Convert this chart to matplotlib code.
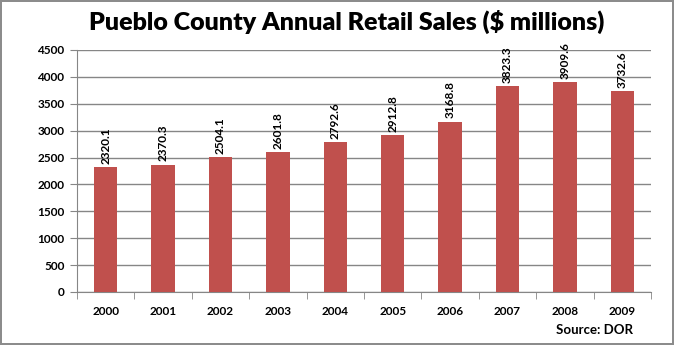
import numpy as np
import matplotlib.pyplot as plt

years = ['2000', '2001', '2002', '2003', '2004', '2005', '2006', '2007', '2008', '2009']
sales = [2320.1, 2370.3, 2504.1, 2601.8, 2792.6, 2912.8, 3168.8, 3823.3, 3909.6, 3732.6]

bar_color = '#C0504D'
grid_color = '#868686'

plt.rcParams['font.family'] = ['Lato', 'DejaVu Sans']

fig = plt.figure(figsize=(6.74, 3.45), dpi=100)
fig.patch.set_edgecolor('#8c8c8c')
fig.patch.set_linewidth(1.5)
ax = fig.add_axes([77/674, 1 - 292/345, (651 - 77)/674, (292 - 50)/345])

x = np.arange(len(years))
ax.bar(x, sales, width=0.41, color=bar_color, zorder=3)

for xi, v in zip(x, sales):
    ax.text(xi, v + 60, f'{v:.1f}', rotation=90, ha='center', va='bottom',
            fontsize=8.5, fontweight='bold', color='black', zorder=4)

ax.set_xlim(-0.5, len(years) - 0.5)
ax.set_ylim(0, 4500)
ax.set_yticks(np.arange(0, 4501, 500))
ax.set_yticklabels([str(t) for t in range(0, 4501, 500)], fontsize=8.5, fontweight='bold')
ax.set_xticks(x)
ax.set_xticklabels(years, fontsize=8.5, fontweight='bold')
ax.set_xticks(np.arange(-0.5, len(years)), minor=True)
ax.tick_params(axis='x', which='major', length=0, pad=10)
ax.tick_params(axis='x', which='minor', length=5, color=grid_color)
ax.tick_params(axis='y', length=5, color=grid_color, pad=4)

ax.yaxis.grid(True, color=grid_color, linewidth=1, zorder=0)
for side in ['top', 'right']:
    ax.spines[side].set_visible(False)
for side in ['left', 'bottom']:
    ax.spines[side].set_color(grid_color)

fig.text(347/674, 1 - 22/345, 'Pueblo County Annual Retail Sales ($ millions)',
         ha='center', va='center', fontsize=18, fontweight='heavy')
fig.text(595/674, 1 - 330/345, 'Source: DOR', ha='center', va='center',
         fontsize=9.5, fontweight='bold')

fig.savefig('out.png', dpi=100)
